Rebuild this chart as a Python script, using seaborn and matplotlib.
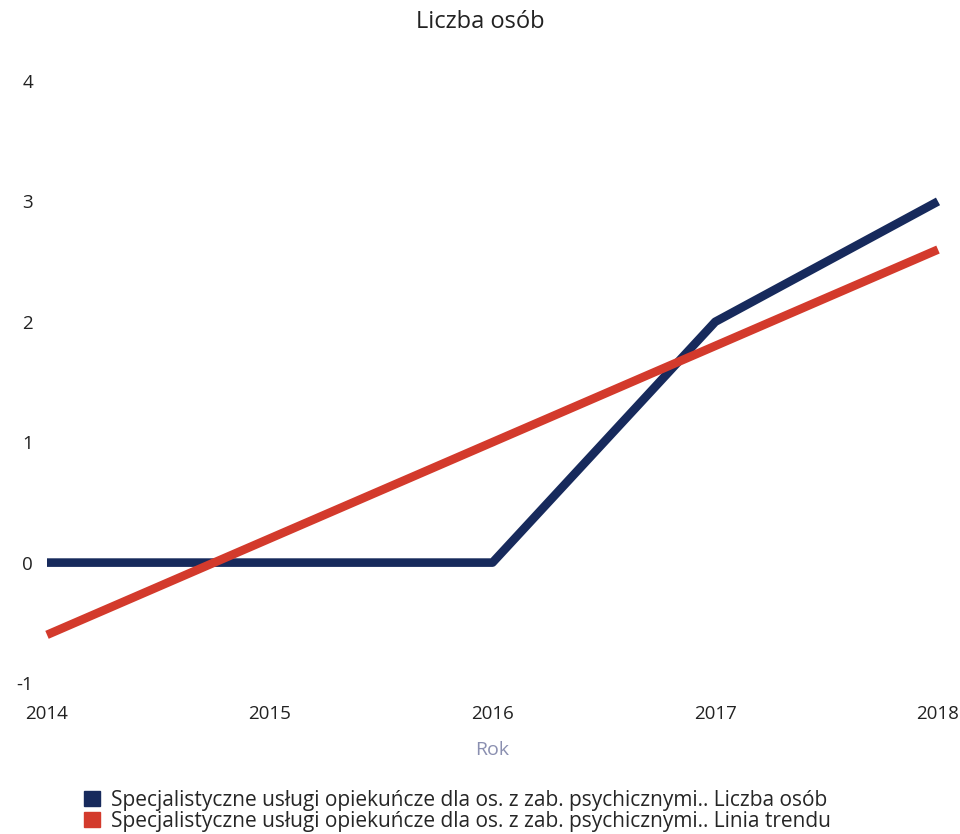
import matplotlib.pyplot as plt
import seaborn as sns
import pandas as pd
from matplotlib.patches import Patch

years = [2014, 2015, 2016, 2017, 2018]
liczba_osob = [0, 0, 0, 2, 3]
linia_trendu = [-0.6, 0.2, 1.0, 1.8, 2.6]
series_names = [
    'Specjalistyczne usługi opiekuńcze dla os. z zab. psychicznymi.. Liczba osób',
    'Specjalistyczne usługi opiekuńcze dla os. z zab. psychicznymi.. Linia trendu',
]
colors = ['#172a5c', '#d33a2c']

df = pd.DataFrame({
    'Rok': years * 2,
    'value': liczba_osob + linia_trendu,
    'series': [series_names[0]] * len(years) + [series_names[1]] * len(years),
})

sns.set_style('white')
plt.rcParams['font.family'] = ['Open Sans', 'DejaVu Sans']
plt.rcParams['axes.unicode_minus'] = False

fig = plt.figure(figsize=(9.6, 8.34), dpi=100)
ax = fig.add_axes([47 / 960, 1 - 683 / 834, (938 - 47) / 960, (683 - 81) / 834])

sns.lineplot(data=df, x='Rok', y='value', hue='series', palette=colors,
             linewidth=6.2, ax=ax, legend=False, solid_capstyle='butt')
for line in ax.lines:
    line.set_clip_on(False)

ax.set_xlim(2014, 2018)
ax.set_ylim(-1, 4)
ax.set_xticks(years)
ax.set_xticklabels([str(y) for y in years])
ax.set_yticks([-1, 0, 1, 2, 3, 4])
ax.tick_params(axis='both', length=0, labelsize=13.5, colors='#222222')
ax.tick_params(axis='x', pad=16)
ax.tick_params(axis='y', pad=10)
for s in ax.spines.values():
    s.set_visible(False)
ax.set_ylabel('')
ax.set_xlabel('Rok', fontsize=14, color='#8a8fb0', labelpad=13)

fig.text(0.5, 1 - 22 / 834, 'Liczba osób', ha='center', va='center', fontsize=17, color='#222222')

handles = [Patch(facecolor=c, edgecolor=c) for c in colors]
fig.legend(handles, series_names, loc='upper left', bbox_to_anchor=(0.088, 1 - 790 / 834),
           frameon=False, fontsize=15, handlelength=0.75, handleheight=0.75,
           handletextpad=0.5, labelspacing=0.0, borderpad=0, borderaxespad=0)

fig.savefig('out.png', dpi=100)
plt.close(fig)
